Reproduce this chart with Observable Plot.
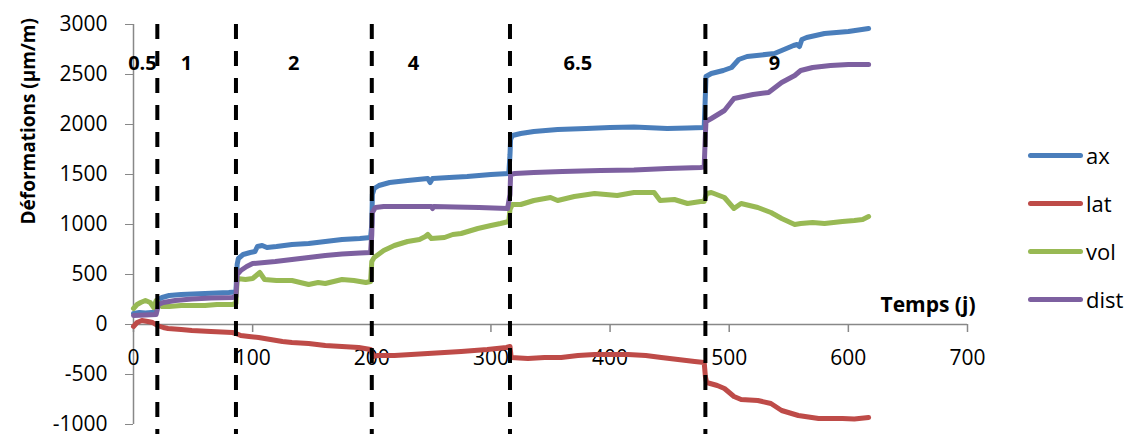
<!DOCTYPE html>
<html><head><meta charset="utf-8">
<script src="https://cdn.jsdelivr.net/npm/d3@7"></script>
<script src="https://cdn.jsdelivr.net/npm/@observablehq/plot@0.6"></script>
<style>
body{margin:0;background:#fff;}
#wrap{position:relative;width:1127px;height:434px;font-family:"Open Sans",sans-serif;}
#legend{position:absolute;left:1028px;top:0;}
.item{position:absolute;left:0;display:flex;align-items:center;height:30px;white-space:nowrap;}
.sw{width:55px;height:5px;border-radius:3px;}
.lab{font-size:22px;margin-left:3px;color:#000;}
</style></head>
<body><div id="wrap"></div>
<script>
const seriesNames = ["ax","lat","vol","dist"];
const seriesColors = ["#4A7EBB","#BE4B48","#98B954","#7D60A0"];
const ax = [[0,110],[5,120],[10,115],[15,120],[19,125],[20,200],[21,250],[24,270],[30,290],[40,300],[50,305],[60,310],[70,315],[80,320],[85,325],[86,330],[87,600],[88,660],[92,700],[98,720],[102,730],[104,780],[108,790],[112,770],[120,780],[133,800],[147,810],[161,830],[175,850],[190,860],[199,870],[200,1000],[200.5,1300],[202,1360],[206,1390],[215,1420],[230,1440],[247,1460],[249,1420],[251,1460],[265,1470],[280,1480],[300,1500],[315,1510],[316,1700],[316.5,1850],[318,1890],[325,1910],[336,1930],[356,1950],[380,1960],[400,1970],[420,1975],[448,1960],[465,1965],[479,1970],[480,2300],[480.5,2480],[485,2510],[495,2540],[502,2570],[508,2650],[515,2680],[538,2710],[548,2760],[554,2790],[557,2800],[559,2780],[561,2850],[565,2870],[580,2910],[600,2930],[617,2960]];
const lat = [[0,-20],[3,20],[7,40],[12,30],[16,20],[20,-10],[25,-30],[29,-40],[40,-50],[49,-60],[65,-70],[83,-80],[86,-90],[90,-110],[97,-120],[105,-130],[115,-150],[125,-170],[133,-180],[147,-190],[161,-210],[175,-220],[189,-230],[199,-250],[201,-320],[205,-310],[219,-310],[233,-300],[247,-290],[261,-280],[275,-270],[297,-250],[313,-230],[316,-220],[317,-330],[331,-340],[345,-330],[359,-330],[373,-310],[387,-300],[400,-300],[415,-300],[430,-310],[443,-330],[457,-350],[471,-370],[479,-380],[480,-520],[481,-580],[490,-610],[496,-640],[504,-720],[510,-750],[524,-760],[535,-790],[544,-860],[558,-910],[575,-940],[595,-940],[605,-945],[617,-930]];
const vol = [[0,160],[3,200],[6,220],[10,240],[14,220],[17,170],[19,240],[21,220],[24,180],[30,180],[40,190],[49,190],[60,190],[70,200],[83,200],[86,210],[87,460],[94,450],[100,460],[104,500],[106,520],[110,450],[120,440],[133,440],[140,420],[147,400],[155,420],[161,410],[175,450],[185,440],[195,420],[199,430],[200,630],[202,670],[210,740],[219,790],[230,830],[240,850],[245,880],[247,900],[250,860],[261,870],[268,900],[275,910],[289,960],[300,990],[308,1010],[315,1030],[316,1150],[318,1200],[325,1200],[336,1240],[350,1270],[356,1240],[370,1280],[387,1310],[406,1290],[420,1320],[437,1320],[442,1240],[454,1250],[465,1210],[476,1230],[479,1230],[481,1310],[485,1320],[496,1270],[504,1160],[510,1210],[524,1170],[535,1120],[544,1060],[555,1000],[560,1010],[570,1020],[580,1010],[595,1030],[605,1040],[612,1050],[617,1080]];
const dist = [[0,90],[10,95],[19,100],[20,150],[21,200],[25,220],[35,240],[49,255],[65,265],[83,270],[86,280],[87,500],[90,540],[95,580],[100,610],[110,620],[119,630],[133,650],[147,670],[161,690],[175,705],[190,715],[199,720],[200,900],[200.5,1120],[203,1170],[210,1180],[230,1180],[250,1180],[251,1160],[252,1180],[270,1175],[290,1170],[314,1160],[316,1300],[316.5,1500],[320,1510],[336,1520],[360,1530],[392,1540],[420,1545],[448,1560],[476,1570],[479,1575],[480,1900],[480.5,2030],[485,2060],[496,2140],[504,2260],[520,2300],[533,2320],[544,2420],[555,2490],[560,2540],[570,2570],[585,2590],[600,2600],[617,2600]];
const boundaries = [20, 86, 200, 316, 480];
const phaseLabels = ["0.5","1","2","4","6.5","9"];
const phaseX = [7.5, 44.5, 134.5, 235, 373, 538];
const xTicks = [0,100,200,300,400,500,600,700];
const yTicks = [-1000,-500,0,500,1000,1500,2000,2500,3000];

const allSeries = [ax, lat, vol, dist];
const rows = allSeries.flatMap((s, k) => s.map(([t, v]) => ({t, v, s: seriesNames[k]})));
const phases = phaseLabels.map((l, i) => ({l, x: phaseX[i]}));

const plot = Plot.plot({
  width: 1127, height: 434,
  marginLeft: 133, marginRight: 160, marginTop: 24, marginBottom: 10,
  style: {fontFamily: "'Open Sans', sans-serif", fontSize: "21px", color: "#000", background: "#fff"},
  x: {domain: [0, 700], axis: null},
  y: {domain: [-1000, 3000]},
  color: {domain: seriesNames, range: seriesColors},
  marks: [
    Plot.ruleX([0], {stroke: "#888", strokeWidth: 1.5}),
    Plot.ruleY([0], {stroke: "#888", strokeWidth: 1.5}),
    Plot.axisY(yTicks, {tickSize: 8, tickPadding: 18, tickFormat: d => String(d), stroke: "#888", fill: "#000", label: null, fontSize: 21}),
    Plot.ruleX(xTicks, {x: d => d, y1: 0, y2: 0, insetBottom: -8, stroke: "#888", strokeWidth: 1.5}),
    Plot.text(xTicks, {x: d => d, y: 0, dy: 34, text: d => String(d), fontSize: 21, fill: "#000"}),
    Plot.line(rows, {x: "t", y: "v", z: "s", stroke: "s", strokeWidth: 5, strokeLinejoin: "round", strokeLinecap: "round"}),
    Plot.ruleX(boundaries, {stroke: "#000", strokeWidth: 4, strokeDasharray: "15,12", insetBottom: -10}),
    Plot.text(phases, {x: "x", frameAnchor: "top", dy: 31, text: "l", fontWeight: "bold", fontSize: 20, fill: "#000"}),
    Plot.text(["Temps (j)"], {x: 700, y: 0, text: d => d, textAnchor: "end", dx: 8, dy: -19, fontWeight: "bold", fontSize: 21, fill: "#000"}),
    Plot.text(["Déformations (µm/m)"], {frameAnchor: "left", text: d => d, rotate: -90, dx: -105, fontWeight: "bold", fontSize: 19, fill: "#000"})
  ]
});
const wrap = document.getElementById("wrap");
wrap.appendChild(plot);
const legend = document.createElement("div");
legend.id = "legend";
const legendTops = [155, 203, 251, 299];
seriesNames.forEach((n, i) => {
  const it = document.createElement("div");
  it.className = "item";
  it.style.top = (legendTops[i] - 15) + "px";
  it.innerHTML = `<div class="sw" style="background:${seriesColors[i]}"></div><span class="lab">${n}</span>`;
  legend.appendChild(it);
});
wrap.appendChild(legend);
</script>
</body></html>
